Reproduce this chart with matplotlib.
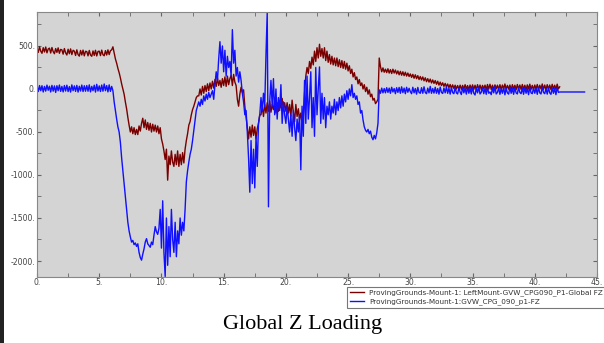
import numpy as np
import matplotlib
matplotlib.use("Agg")
import matplotlib.pyplot as plt
from matplotlib.patches import Rectangle

time_red = np.round(np.arange(0, 42.05, 0.1), 2)
red_fz = [
    470, 425, 490, 440, 415, 480, 430, 488, 420, 465,
    475, 418, 482, 435, 410, 470, 425, 478, 415, 460,
    455, 405, 470, 420, 395, 462, 410, 466, 400, 450,
    440, 390, 455, 400, 382, 448, 395, 452, 385, 438,
    435, 385, 448, 395, 380, 442, 390, 450, 384, 436,
    440, 388, 452, 398, 386, 446, 395, 455, 400, 445,
    455, 490, 420, 350, 300, 240, 190, 130, 60, 0,
    -60, -150, -230, -330, -420, -500, -440, -520, -450, -530,
    -470, -530, -430, -490, -400, -340, -450, -360, -470, -390,
    -480, -400, -500, -410, -490, -420, -500, -430, -520, -450,
    -580, -640, -720, -820, -700, -1060, -780, -880, -720, -850,
    -900, -760, -880, -720, -900, -760, -880, -740, -860, -700,
    -600, -520, -420, -380, -300, -240, -200, -150, -100, -80,
    -80, 0, -70, 30, -50, 40, -30, 60, -20, 70,
    0, 90, 10, 110, 30, 130, 40, 100, 20, 120,
    40, 140, 30, 150, 50, 120, 160, 40, 170, 80,
    40, -120, -200, -60, 20, -40, -10, -200, -320, -450,
    -580, -440, -560, -420, -540, -440, -580, -460, -400, -300,
    -300, -200, -320, -180, -280, -160, -260, -140, -270, -180,
    -240, -130, -280, -160, -260, -140, -220, -110, -240, -160,
    -260, -160, -280, -180, -320, -130, -270, -380, -180, -320,
    -230, -360, -280, -380, -300, -50, 150, 250, 180, 320,
    240, 370, 280, 440, 320, 480, 360, 520, 380, 470,
    360, 480, 330, 440, 310, 400, 290, 380, 280, 360,
    270, 360, 260, 340, 250, 330, 240, 320, 230, 300,
    210, 270, 180, 230, 140, 190, 110, 140, 60, 110,
    40, 70, 0, 50, -30, 20, -60, -10, -90, -60,
    -130, -110, -170, -150, -120, 360, 260, 200, 245, 195,
    230, 190, 235, 185, 225, 180, 230, 185, 220, 175,
    210, 165, 205, 160, 200, 155, 195, 150, 185, 145,
    175, 135, 170, 125, 165, 120, 155, 110, 145, 105,
    140, 95, 130, 85, 120, 80, 115, 70, 105, 65,
    98, 55, 90, 45, 80, 40, 72, 30, 65, 25,
    58, 15, 52, 10, 48, 5, 44, 0, 40, -2,
    45, -5, 42, -2, 50, 0, 40, -8, 46, -4,
    48, -5, 44, -10, 50, -3, 46, -8, 42, 0,
    45, -8, 52, -2, 55, -6, 44, -10, 48, 2,
    44, -4, 50, -8, 46, 0, 58, -5, 42, -2,
    46, -10, 50, -3, 44, -8, 52, 0, 46, -6,
    52, -4, 44, -10, 48, 0, 56, -5, 42, -8,
    46, -2, 52, -8, 44, 0, 58, -4, 46, -10,
    50, -3, 46, -8, 54, 0, 44, -5, 56, 2,
    25,
]

time_blue = np.append(np.round(np.arange(0, 42.05, 0.1), 2), 44.0)
blue_fz = [
    35, -30, 40, -20, 38, -35, 30, -25, 45, -15,
    32, -35, 42, -25, 36, -40, 38, -20, 46, -28,
    30, -34, 40, -24, 44, -30, 28, -36, 48, -20,
    36, -28, 42, -36, 32, -24, 46, -30, 38, -26,
    40, -26, 48, -34, 30, -20, 44, -36, 54, -24,
    36, -30, 46, -26, 58, -20, 40, -34, 48, -28,
    30, -20, -150, -250, -350, -440, -500, -620, -800, -950,
    -1100, -1250, -1400, -1550, -1650, -1720, -1780, -1760, -1810, -1790,
    -1830, -1800, -1900, -1960, -1990, -1920, -1860, -1780, -1740, -1800,
    -1820, -1840, -1780, -1810, -1700, -1600, -1660, -1690, -1620, -1400,
    -1850, -1300, -1900, -2180, -1500, -2050, -1600, -1950, -1400, -1750,
    -1900, -1550, -1950, -1650, -1800, -1500, -1700, -1550, -1650, -1400,
    -1080, -950, -850, -760, -700, -600, -480, -350, -250, -200,
    -150, -200, -120, -180, -80, -140, -60, -120, -40, -100,
    -60, -20, -120, 50, 200, 100, 350, 550, 300, 500,
    200, 450, 150, 380, 250, 320, 150, 690, 300, 450,
    150, 250, 80, 200, 100, -50, -150, -300, -250, -500,
    -800, -1200, -600, -1100, -700, -1150, -550, -900, -400, -300,
    -100, -250, -50, -200, 400, 890, -1370, -150, 100, -200,
    120, -300, 0, -350, -100, -250, 50, -400, -150, -300,
    -400, -200, -350, -500, -300, -550, -250, -450, -600, -350,
    -500, -300, -940, -200, -550, 100, -400, 150, -350, -100,
    200, -450, -100, -550, 250, -300, 0, 256, -400, -50,
    -350, -100, -450, -200, -300, -150, -350, -200, -280, -120,
    -300, -150, -250, -100, -220, -80, -200, -60, -150, -20,
    -120, 0, -80, 50, -100, -50, -120, -80, -180, -150,
    -280, -250, -360, -440, -480, -500, -470, -520, -490, -560,
    -590, -540, -580, -510, -400, -10, -50, 10, -45, 5,
    -45, 15, -40, 10, -50, 20, -35, 5, -55, 15,
    -40, 18, -50, 25, -42, 10, -55, 20, -38, 8,
    -30, -55, 20, -45, 5, -60, 18, -40, -50, 15,
    -50, 25, -40, -55, 10, -45, 30, -50, 5, -48,
    20, -50, 5, -60, 22, -40, -52, 12, -45, 25,
    -50, 8, -60, 18, -42, -55, 20, -45, -58, 12,
    -35, -65, 18, -45, 8, -60, 22, -50, 5, -58,
    20, -50, -70, 10, -45, 22, -58, -38, 15, -55,
    5, -62, 18, -50, -35, -66, 12, -45, 28, -58,
    -40, 12, -62, 5, -50, 18, -68, 8, -45, -60,
    22, -50, 5, -62, 15, -45, -58, 18, -40, -55,
    10, -62, 18, -50, 5, -66, 22, -45, -55, 12,
    -50, 10, -62, 18, -45, -58, 22, -40, -55, 5,
    -60, 18, -45, -62, 12, -50, 5, -66, 18, -40,
    -35,
    -35,
]

x_ticks = [0, 5, 10, 15, 20, 25, 30, 35, 40, 45]
x_labels = ["0.", "5.", "10.", "15.", "20.", "25.", "30.", "35.", "40.", "45."]
y_ticks = [-2000, -1500, -1000, -500, 0, 500]
y_labels = ["-2000.", "-1500.", "-1000.", "-500.", "0.", "500."]
series_names = [
    "ProvingGrounds-Mount-1: LeftMount-GVW_CPG090_P1-Global FZ",
    "ProvingGrounds-Mount-1:GVW_CPG_090_p1-FZ",
]
title_text = "Global Z Loading"

# ---- figure ----
W, H = 604, 343
fig = plt.figure(figsize=(W / 100, H / 100), dpi=100)
fig.patch.set_facecolor("white")
fig.patches.append(Rectangle((0, 0), 4 / W, 1, transform=fig.transFigure,
                             facecolor="#222222", edgecolor="none"))

ax = fig.add_axes([37 / W, (H - 277) / H, 560 / W, 265 / H])
ax.set_facecolor("#d4d4d4")

ax.plot(time_red, red_fz, color="#7a0000", lw=1.0, label=series_names[0])
ax.plot(time_blue, blue_fz, color="#1010ff", lw=1.0, label=series_names[1])

ax.set_xlim(0, 45)
ax.set_ylim(-2186, 895)
ax.set_xticks(x_ticks)
ax.set_xticklabels(x_labels)
ax.set_yticks(y_ticks)
ax.set_yticklabels(y_labels)
ax.set_xticks(np.arange(0, 45.1, 2.5), minor=True)
ax.set_yticks(np.arange(-2000, 751, 250), minor=True)
ax.tick_params(axis="both", which="both", direction="in", top=True, right=True,
               color="#666666", labelsize=5.6, labelcolor="#444444", pad=1.0)
ax.tick_params(which="major", length=3)
ax.tick_params(which="minor", length=3)
for sp in ax.spines.values():
    sp.set_color("#888888")
    sp.set_linewidth(0.8)

leg = fig.legend(loc="upper left", bbox_to_anchor=(347 / W, (H - 287) / H),
                 fontsize=5.2, frameon=True, fancybox=False, borderpad=0.35,
                 handlelength=2.0, handletextpad=0.7, labelspacing=0.3,
                 borderaxespad=0)
leg.get_frame().set_edgecolor("#555555")
leg.get_frame().set_linewidth(0.8)
for t in leg.get_texts():
    t.set_color("#333333")

fig.text(303 / W, 1 - 324 / H, title_text, ha="center", va="center",
         fontsize=16, family="Liberation Serif", color="black")

fig.savefig("out.png", dpi=100)
